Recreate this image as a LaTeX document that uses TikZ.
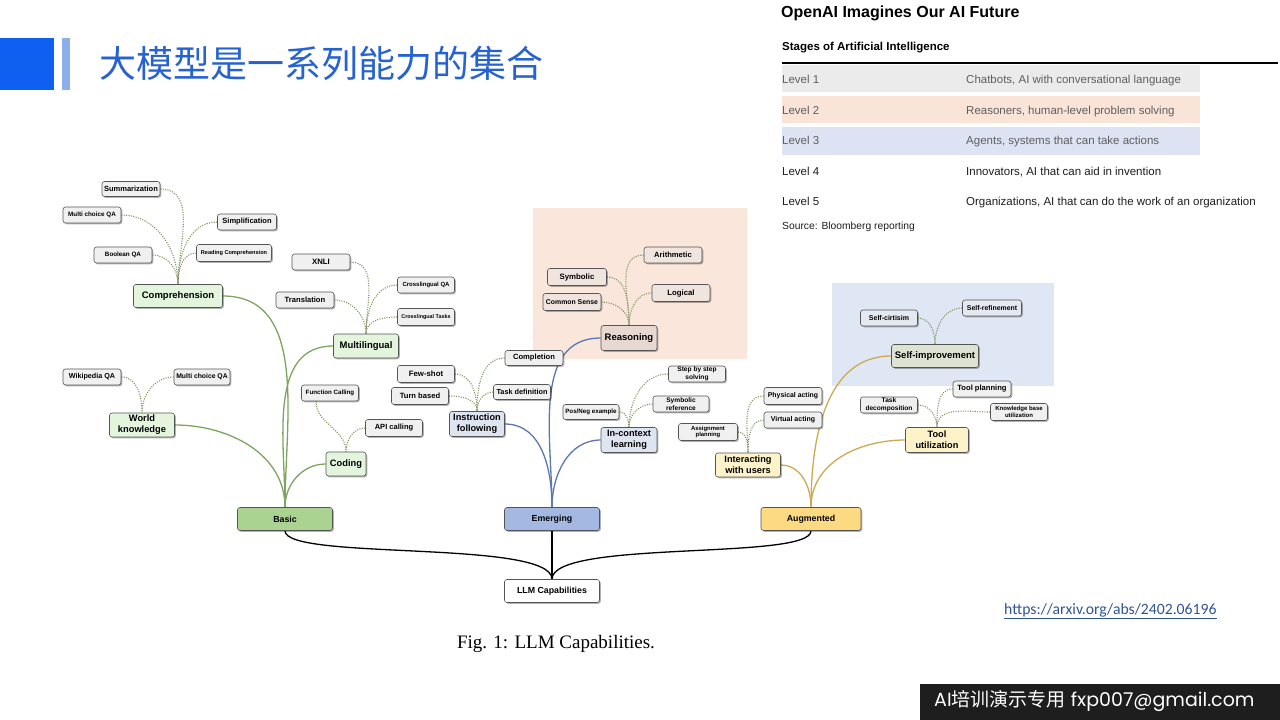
\documentclass[tikz,border=0pt]{standalone}
\usepackage{fontspec}
\setmainfont{Liberation Sans}
\newfontfamily\cjkfont{Noto Sans CJK SC}
\newfontfamily\seriffont{Liberation Serif}
\newfontfamily\linkfont{Carlito}
\newfontfamily\wmfont{Poppins}
\usetikzlibrary{shadows}
\definecolor{bordc}{RGB}{85,85,85}
\definecolor{leafc}{RGB}{240,240,240}
\definecolor{leafpk}{RGB}{240,228,222}
\definecolor{leafbl}{RGB}{228,232,240}
\definecolor{gsub}{RGB}{228,245,222}
\definecolor{bsub}{RGB}{222,228,240}
\definecolor{rsub}{RGB}{232,216,210}
\definecolor{ysub}{RGB}{253,242,200}
\definecolor{ssub}{RGB}{222,226,210}
\definecolor{basicc}{RGB}{170,210,145}
\definecolor{emergc}{RGB}{164,185,226}
\definecolor{augc}{RGB}{252,218,130}
\definecolor{peachbg}{RGB}{250,230,218}
\definecolor{bluebg}{RGB}{222,231,243}
\definecolor{gline}{RGB}{125,165,95}
\definecolor{bline}{RGB}{90,120,175}
\definecolor{yline}{RGB}{205,170,80}
\definecolor{dotc}{RGB}{130,150,100}
\definecolor{titleblue}{RGB}{38,98,210}
\definecolor{sqblue}{RGB}{15,95,240}
\definecolor{barblue}{RGB}{140,175,235}
\definecolor{row1}{RGB}{235,235,235}
\definecolor{row2}{RGB}{250,228,216}
\definecolor{row3}{RGB}{221,227,243}
\definecolor{greytext}{RGB}{95,95,95}
\definecolor{darktext}{RGB}{30,30,30}
\definecolor{linkc}{RGB}{46,84,150}
\definecolor{wmbg}{RGB}{30,30,30}
\pgfdeclarelayer{bglayer}
\pgfdeclarelayer{edgelayer}
\pgfsetlayers{bglayer,edgelayer,main}
\tikzset{
  fs/.code={\pgfmathsetmacro\fsbs{#1*1.18}\edef\fstmp{\noexpand\tikzset{font=\noexpand\bfseries\noexpand\fontsize{#1}{\fsbs}\noexpand\selectfont}}\fstmp},
  wh/.style 2 args={minimum width=#1pt, minimum height=#2pt},
  box/.style={draw=bordc, line width=0.6pt, rounded corners=2.5pt, align=center, inner sep=0.5pt,
    drop shadow={shadow xshift=1.3pt, shadow yshift=-1.3pt, opacity=0.3, fill=black}},
  leaf/.style={box, fill=leafc},
  leafp/.style={box, fill=leafpk},
  leafb/.style={box, fill=leafbl},
  gbox/.style={box, fill=gsub},
  bbox/.style={box, fill=bsub},
  ybox/.style={box, fill=ysub},
  topbox/.style={box, wh={95}{23}, fs=8.8},
  gedge/.style={draw=gline, line width=1.3pt},
  bedge/.style={draw=bline, line width=1.3pt},
  yedge/.style={draw=yline, line width=1.3pt},
  dotedge/.style={draw=dotc, line width=1.1pt, dash pattern=on 1.1pt off 1.3pt},
  rootedge/.style={draw=black, line width=1.3pt},
  txt/.style={anchor=west, inner sep=0pt},
  btxt/.style={anchor=base west, inner sep=0pt},
}
\begin{document}
\begin{tikzpicture}[x=1pt,y=1pt]
\useasboundingbox (0,0) rectangle (1280,-720);
% header
\fill[sqblue] (0,-38) rectangle (54,-90);
\fill[barblue] (62,-38) rectangle (70,-90);
\node[txt, text=titleblue, font=\cjkfont\fontsize{37}{40}\selectfont] (title) at (99,-63) {大模型是一系列能力的集合};

% table
\node[txt, font=\bfseries\fontsize{16}{18}\selectfont] (ttitle) at (781,-13) {OpenAI Imagines Our AI Future};
\node[txt, font=\bfseries\fontsize{11.5}{13}\selectfont] (tsub) at (782,-48) {Stages of Artificial Intelligence};
\draw[line width=1.3pt] (782,-63) -- (1278,-63);
\fill[row1] (782,-65) rectangle (1200,-92);
\fill[row2] (782,-96) rectangle (1200,-123);
\fill[row3] (782,-127) rectangle (1200,-155);
\begin{scope}[every node/.style={btxt, font=\fontsize{11.5}{13}\selectfont}]
\node[text=greytext] (l1) at (782,-83) {Level 1};
\node[text=greytext] (d1) at (966,-83) {Chatbots, AI with conversational language};
\node[text=greytext] (l2) at (782,-114) {Level 2};
\node[text=greytext] (d2) at (966,-114) {Reasoners, human-level problem solving};
\node[text=greytext] (l3) at (782,-144) {Level 3};
\node[text=greytext] (d3) at (966,-144) {Agents, systems that can take actions};
\node[text=darktext] (l4) at (782,-175) {Level 4};
\node[text=darktext] (d4) at (966,-175) {Innovators, AI that can aid in invention};
\node[text=darktext] (l5) at (782,-205) {Level 5};
\node[text=darktext] (d5) at (966,-205) {Organizations, AI that can do the work of an organization};
\end{scope}
\node[btxt, text=darktext, font=\fontsize{10.3}{12}\selectfont] (src) at (782,-229.5) {Source: Bloomberg reporting};

% background highlight boxes
\begin{pgfonlayer}{bglayer}
\fill[peachbg] (533,-208) rectangle (747,-359);
\fill[bluebg] (832,-283) rectangle (1054,-386);
\end{pgfonlayer}

% ---------- nodes ----------
% Basic group
\node[gbox, wh={89}{23}, fs=9.5] (comp) at (178,-296) {Comprehension};
\node[gbox, wh={65}{24}, fs=9.3] (world) at (142,-425) {World\\knowledge};
\node[gbox, wh={65}{24}, fs=9.5] (multi) at (366,-346) {Multilingual};
\node[gbox, wh={40}{24}, fs=9.3] (coding) at (346,-464) {Coding};
\node[topbox, fill=basicc] (basic) at (285,-519) {Basic};

\node[leaf, wh={58}{15}, fs=7.5] (summ) at (131,-189) {Summarization};
\node[leaf, wh={58}{16}, fs=6.3] (mcqa1) at (92,-215) {Multi choice QA};
\node[leaf, wh={59}{16}, fs=7.5] (simp) at (247,-222) {Simplification};
\node[leaf, wh={58}{16}, fs=6.3] (bool) at (123,-255) {Boolean QA};
\node[leaf, wh={75}{17}, fs=5.6] (read) at (234,-253) {Reading Comprehension};
\node[leaf, wh={58}{16}, fs=7.8] (xnli) at (321,-262) {XNLI};
\node[leaf, wh={58}{16}, fs=7.6] (trans) at (305,-300) {Translation};
\node[leaf, wh={57}{16}, fs=6.0] (cqa) at (426,-285) {Crosslingual QA};
\node[leaf, wh={57}{17}, fs=5.4] (ctask) at (426,-317) {Crosslingual Tasks};
\node[leaf, wh={58}{16}, fs=7.2] (wiki) at (92,-377) {Wikipedia QA};
\node[leaf, wh={56}{16}, fs=6.8] (mcqa2) at (202,-377) {Multi choice QA};
\node[leaf, wh={57}{16}, fs=6.2] (func) at (330,-393) {Function Calling};
\node[leaf, wh={57}{17}, fs=7.5] (api) at (394,-428) {API calling};

% Emerging group
\node[bbox, wh={55}{25}, fs=9.2] (instr) at (477,-424) {Instruction\\following};
\node[box, fill=rsub, wh={56}{25}, fs=9.5] (reason) at (629,-338) {Reasoning};
\node[bbox, wh={56}{25}, fs=9.2] (incon) at (629,-440) {In-context\\learning};
\node[topbox, fill=emergc] (emerg) at (552,-519) {Emerging};

\node[leaf, wh={57}{17}, fs=7.8] (fews) at (426,-374) {Few-shot};
\node[leaf, wh={57}{17}, fs=7.6] (turn) at (420,-396) {Turn based};
\node[leaf, wh={58}{15}, fs=7.6] (compl) at (534,-358) {Completion};
\node[leaf, wh={57}{15}, fs=7.3] (taskd) at (522,-392) {Task definition};
\node[leafp, wh={58}{16}, fs=7.6] (arith) at (673,-255) {Arithmetic};
\node[leafp, wh={59}{17}, fs=7.8] (symb) at (577,-277) {Symbolic};
\node[leafp, wh={58}{17}, fs=7.8] (logic) at (681,-293) {Logical};
\node[leafp, wh={58}{17}, fs=6.9] (csense) at (572,-302) {Common Sense};
\node[leaf, wh={56}{15}, fs=6.2] (posneg) at (591,-412) {Pos/Neg example};
\node[leaf, wh={56}{16}, fs=6.6] (symref) at (681,-404) {Symbolic\\reference};
\node[leaf, wh={57}{16}, fs=6.6] (step) at (697,-374) {Step by step\\solving};

% Augmented group
\node[ybox, wh={65}{24}, fs=9.2] (inter) at (748,-465) {Interacting\\with users};
\node[ybox, wh={63}{25}, fs=9.2] (tool) at (937,-440) {Tool\\utilization};
\node[box, fill=ssub, wh={87}{23}, fs=9.5] (selfimp) at (935,-356) {Self-improvement};
\node[topbox, fill=augc, minimum width=100pt] (aug) at (811,-519) {Augmented};

\node[leaf, wh={58}{17}, fs=6.9] (phys) at (793,-396) {Physical acting};
\node[leaf, wh={58}{16}, fs=7.0] (virt) at (793,-420) {Virtual acting};
\node[leaf, wh={59}{17}, fs=5.9] (assign) at (708,-432) {Assignment\\planning};
\node[leaf, wh={58}{16}, fs=7.6] (toolp) at (982,-389) {Tool planning};
\node[leaf, wh={57}{16}, fs=6.6] (taskdec) at (889,-405) {Task\\decomposition};
\node[leaf, wh={57}{17}, fs=6.0] (kb) at (1019,-412) {Knowledge base\\utilization};
\node[leafb, wh={57}{16}, fs=7.0] (selfc) at (889,-318) {Self-cirtisim};
\node[leafb, wh={59}{16}, fs=6.9] (selfr) at (992,-308) {Self-refinement};

% root
\node[topbox, fill=white] (llm) at (552,-591) {LLM Capabilities};

% ---------- edges ----------
\begin{pgfonlayer}{edgelayer}
% main
\draw[gedge] (basic.north) to[out=90,in=0] (comp.east);
\draw[gedge] (basic.north) to[out=90,in=0] (world.east);
\draw[gedge] (basic.north) to[out=90,in=180] (multi.west);
\draw[gedge] (basic.north) to[out=90,in=180] (coding.west);
\draw[bedge] (emerg.north) to[out=90,in=0] (instr.east);
\draw[bedge] (emerg.north) to[out=90,in=180] (reason.west);
\draw[bedge] (emerg.north) to[out=90,in=180] (incon.west);
\draw[yedge] (aug.north) to[out=90,in=0] (inter.east);
\draw[yedge] (aug.north) to[out=90,in=180] (selfimp.west);
\draw[yedge] (aug.north) to[out=90,in=180] (tool.west);
% root
\draw[rootedge] (basic.south) .. controls +(0,-30) and +(0,40) .. (llm.north);
\draw[rootedge] (emerg.south) -- (llm.north);
\draw[rootedge] (aug.south) .. controls +(0,-30) and +(0,40) .. (llm.north);
% dotted
\foreach \a in {summ,mcqa1,bool} \draw[dotedge] (\a.east) to[out=0,in=90] (comp.north);
\foreach \a in {simp,read} \draw[dotedge] (\a.west) to[out=180,in=90] (comp.north);
\foreach \a in {xnli,trans} \draw[dotedge] (\a.east) to[out=0,in=90] (multi.north);
\foreach \a in {cqa,ctask} \draw[dotedge] (\a.west) to[out=180,in=90] (multi.north);
\draw[dotedge] (wiki.east) to[out=0,in=90] (world.north);
\draw[dotedge] (mcqa2.west) to[out=180,in=90] (world.north);
\draw[dotedge] ([xshift=-14pt]func.south) to[out=-90,in=90] (coding.north);
\draw[dotedge] (api.west) to[out=180,in=90] (coding.north);
\foreach \a in {fews,turn} \draw[dotedge] (\a.east) to[out=0,in=90] (instr.north);
\foreach \a in {compl,taskd} \draw[dotedge] (\a.west) to[out=180,in=90] (instr.north);
\foreach \a in {symb,csense} \draw[dotedge] (\a.east) to[out=0,in=90] (reason.north);
\foreach \a in {arith,logic} \draw[dotedge] (\a.west) to[out=180,in=90] (reason.north);
\draw[dotedge] (posneg.east) to[out=0,in=90] (incon.north);
\foreach \a in {symref,step} \draw[dotedge] (\a.west) to[out=180,in=90] (incon.north);
\draw[dotedge] (assign.east) to[out=0,in=90] (inter.north);
\foreach \a in {phys,virt} \draw[dotedge] (\a.west) to[out=180,in=90] (inter.north);
\draw[dotedge] (taskdec.east) to[out=0,in=90] (tool.north);
\foreach \a in {toolp,kb} \draw[dotedge] (\a.west) to[out=180,in=90] (tool.north);
\draw[dotedge] (selfc.east) to[out=0,in=90] (selfimp.north);
\draw[dotedge] (selfr.west) to[out=180,in=90] (selfimp.north);
\end{pgfonlayer}

% caption and link
\node[font=\seriffont\fontsize{19}{22}\selectfont, inner sep=0pt] (cap) at (556,-644) {Fig. 1: LLM Capabilities.};
\node[txt, text=linkc, font=\linkfont\fontsize{15.7}{18}\selectfont] (link) at (1004,-611) {\underline{https://arxiv.org/abs/2402.06196}};

% watermark
\fill[wmbg] (920,-684) rectangle (1280,-720);
\node[txt, text=white, font=\fontsize{19}{22}\selectfont] (wm) at (934,-701.5) {{\wmfont AI}{\cjkfont 培训演示专用} {\wmfont fxp007@gmail.com}};
\end{tikzpicture}
\end{document}
